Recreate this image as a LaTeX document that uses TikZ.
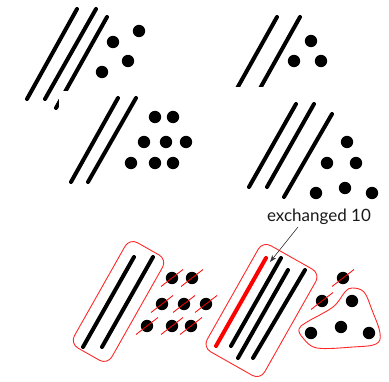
\documentclass[tikz,border=0pt]{standalone}
\usepackage{fontspec}
\setmainfont{Lato}
\usetikzlibrary{arrows.meta,calc}
\definecolor{outred}{RGB}{255,40,40}
\tikzset{
  bar/.style={line width=4pt, line cap=round, black},
  redbar/.style={line width=4pt, line cap=round, red},
  dot/.style={circle, fill=black, inner sep=0pt, minimum size=12.4pt},
  slash/.style={red, line width=0.8pt},
  frame/.style={draw=outred, line width=0.9pt, rounded corners=9pt, rectangle, inner sep=0pt, rotate=60.5},
}
\newcommand{\sdot}[2]{\node[dot] at (#1,#2) {}; \draw[slash] (#1-11,#2+8.5) -- (#1+11,#2-8.5);}
\begin{document}
\begin{tikzpicture}[x=1pt,y=-1pt]
\useasboundingbox (0,0) rectangle (389,382);
% top-left group
\draw[bar] (77,9) -- (27,99);
\draw[bar] (96,9) -- (45,99);
\draw[bar] (107,17) -- (56,108);
\foreach \p in {(139,31),(113,42),(128,61),(102,72)} \node[dot] at \p {};
% top-right group
\draw[bar] (277,17) -- (230,101);
\draw[bar] (300,17) -- (253,101);
\foreach \p in {(311,41),(294,61),(321,61)} \node[dot] at \p {};
% white covers
\fill[white] (59,91) rectangle (200,195);
\fill[white] (222,87) rectangle (389,200);
% middle-left group
\draw[bar] (118,98) -- (71,182);
\draw[bar] (136,98) -- (88,182);
\foreach \p in {(155,117),(173,117),(144,142),(166,142),(186,142),(131,163),(155,163),(173,163)} \node[dot] at \p {};
% middle-right group
\draw[bar] (296,104) -- (249,187);
\draw[bar] (314,104) -- (267,187);
\draw[bar] (332,114) -- (284,197);
\foreach \p in {(347,142),(327,163),(356,163),(316,193),(345,188),(372,193)} \node[dot] at \p {};
% bottom-left group
\node[frame, minimum width=121pt, minimum height=43pt] (fl) at (118.5,301.5) {};
\draw[bar] (134,257) -- (83,347);
\draw[bar] (153,257) -- (102,347);
\sdot{172}{278}\sdot{192}{278}
\sdot{162}{304}\sdot{184}{304}\sdot{206}{304}
\sdot{147}{326}\sdot{172}{326}\sdot{191}{326}
% bottom-right group
\node[frame, minimum width=122pt, minimum height=66pt] (fr) at (261.5,310.5) {};
\draw[redbar] (266,258) -- (216,346);
\draw[bar] (281,258) -- (231,346);
\draw[bar] (288,270) -- (238,358);
\draw[bar] (305,270) -- (253,358);
\sdot{343}{278}\sdot{322}{301}
\node[dot] (b1) at (352,301) {};
\node[dot] (b2) at (311,333) {};
\node[dot] (b3) at (341,327) {};
\node[dot] (b4) at (369,333) {};
\draw[outred, line width=0.9pt] plot[smooth cycle, tension=0.6] coordinates {(352,288) (364,292) (372,310) (380,333) (376,344) (353,347) (317,348) (303,338) (299,329) (307,322) (333,307) (345,292)};
% label and arrow
\node[font=\fontsize{17}{19}\selectfont, text=black!90, inner sep=1pt] (lab) at (319,217) {exchanged 10};
\coordinate (tip) at (270,262);
\coordinate (tail) at (298,227);
\draw[black!80, line width=0.6pt, -{Stealth[length=7pt,width=5pt]}] (tail) -- (tip);
\end{tikzpicture}
\end{document}
